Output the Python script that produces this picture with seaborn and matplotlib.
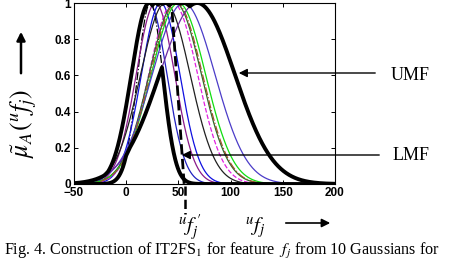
import numpy as np
import pandas as pd
import matplotlib
matplotlib.use("Agg")
import matplotlib.pyplot as plt
import seaborn as sns

# Gaussian membership functions (mean, sigma)
means  = [22, 23, 28, 33, 37.5, 45, 47, 50, 55, 48, 68]
sigmas = [17, 12, 18.4, 18.4, 23.7, 23.4, 25, 26, 30, 25, 36]
colors = ["#2020c0", "#000000", "#8b1a8b", "#1010e0", "#202020", "#e020e0",
          "#2a6a2a", "#10dd10", "#4b3cc8", "#a0522d", "#6a2aa0"]
styles = ["-", "-.", "-", "-", "-", "--", "-", "-", "-", "-.", "-"]
xticks = [-50, 0, 50, 100, 150, 200]
yticks = [0, 0.2, 0.4, 0.6, 0.8, 1]
ytick_labels = ["0", "0.2", "0.4", "0.6", "0.8", "1"]
dashed_marker_x = [44, 55.5]
dashed_marker_y = [0.95, 0.0]

sns.set_theme(style="ticks")
plt.rcParams["mathtext.fontset"] = "stix"

fig = plt.figure(figsize=(4.56, 2.68), dpi=100)
ax = fig.add_axes([74/456, 1-184/268, (335-74)/456, (184-3)/268])

x = np.linspace(-50, 200, 1001)
curves = []
for m, s, c, ls in zip(means, sigmas, colors, styles):
    y = np.exp(-0.5*((x-m)/s)**2)
    curves.append(y)
    sns.lineplot(x=x, y=y, ax=ax, color=c, linestyle=ls, linewidth=0.9)

curves = np.array(curves)
umf = curves.max(axis=0)
lmf = curves.min(axis=0)
sns.lineplot(x=x, y=umf, ax=ax, color="black", linewidth=2.8)
sns.lineplot(x=x, y=lmf, ax=ax, color="black", linewidth=2.8)

sns.lineplot(x=dashed_marker_x, y=dashed_marker_y, ax=ax, color="black",
             linestyle="--", linewidth=2.0)
ax.plot([56.7, 56.7], [-0.01, -0.166], color="black", linestyle="--",
        linewidth=1.8, clip_on=False)

ax.set_xlim(-50, 200)
ax.set_ylim(0, 1)
ax.set_xticks(xticks)
ax.set_yticks(yticks)
ax.set_yticklabels(ytick_labels)
ax.tick_params(direction="in", length=3, width=0.7, top=True, right=True,
               labelsize=8.5, pad=2, colors="black")
for lab in ax.get_xticklabels() + ax.get_yticklabels():
    lab.set_fontweight("bold")
    lab.set_family("Liberation Sans")
for sp in ax.spines.values():
    sp.set_linewidth(0.8)
    sp.set_color("black")
ax.set_xlabel("")
ax.set_ylabel("")

def fx(px):
    return px/456
def fy(py):
    return 1-py/268

# UMF / LMF arrows and labels
fig.add_artist(matplotlib.patches.FancyArrowPatch(
    (fx(378), fy(73)), (fx(236), fy(73)), transform=fig.transFigure,
    arrowstyle="-|>,head_length=5,head_width=2.5", color="black", lw=1.0))
fig.add_artist(matplotlib.patches.FancyArrowPatch(
    (fx(382), fy(155)), (fx(179), fy(155)), transform=fig.transFigure,
    arrowstyle="-|>,head_length=5,head_width=2.5", color="black", lw=1.0))
fig.text(fx(391), fy(75), "UMF", family="Liberation Serif", fontsize=13,
         va="center", ha="left", color="black")
fig.text(fx(393), fy(155), "LMF", family="Liberation Serif", fontsize=13,
         va="center", ha="left", color="black")

# y-axis arrow and label
fig.add_artist(matplotlib.patches.FancyArrowPatch(
    (fx(21), fy(76)), (fx(21), fy(29)), transform=fig.transFigure,
    arrowstyle="-|>,head_length=5,head_width=2.5", color="black", lw=1.8))
fig.text(fx(24), fy(124), r"$\tilde{\mu}_A(^u f_j)$", rotation=90,
         fontsize=18.5, va="center", ha="center", color="black")

# x-axis labels below
fig.text(fx(190), fy(228), r"$^u f_j^{\,\prime}$", fontsize=15,
         va="center", ha="center", color="black")
fig.text(fx(255), fy(228), r"$^u f_j$", fontsize=15,
         va="center", ha="center", color="black")
fig.add_artist(matplotlib.patches.FancyArrowPatch(
    (fx(283), fy(223)), (fx(333), fy(223)), transform=fig.transFigure,
    arrowstyle="-|>,head_length=5,head_width=2.5", color="black", lw=1.2))

# caption
fig.text(fx(4), fy(251), r"Fig. 4. Construction of IT2FS$_1$ for feature  $f_j$ from 10 Gaussians for",
         family="Liberation Serif", fontsize=11.6, va="center", ha="left",
         color="black")

fig.savefig("out.png", dpi=100)
